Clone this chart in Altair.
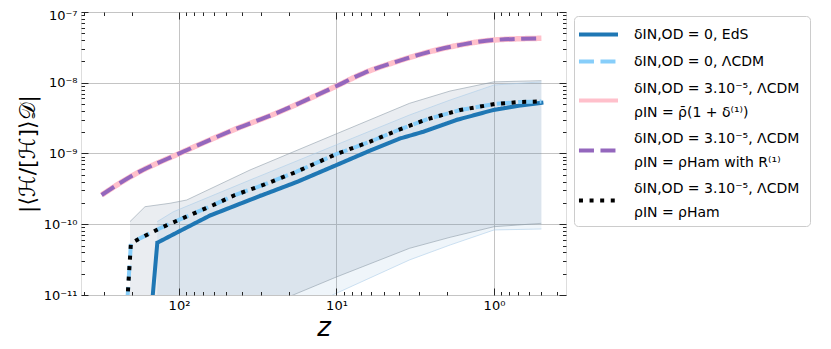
import altair as alt
import pandas as pd

# ---------------- data ----------------
SERIES = [
    "δIN,OD = 0,  EdS",
    "δIN,OD = 0,  ΛCDM",
    "δIN,OD = 3.10⁻⁵,  ΛCDM\nρIN = ρ̄(1 + δ⁽¹⁾)",
    "δIN,OD = 3.10⁻⁵,  ΛCDM\nρIN = ρHam with R⁽¹⁾",
    "δIN,OD = 3.10⁻⁵,  ΛCDM\nρIN = ρHam",
]
COLORS = ["#1f77b4", "#87cefa", "#ffc0cb", "#9467bd", "#000000"]
DASHES = [[1, 0], [15, 6.5], [1, 0], [15, 6.5], [4, 6.6]]
WIDTHS = [4, 4, 5.5, 4, 4]
# legend symbols: a horizontal stroke, lowered for two-line entries
SHAPES = ["M-1.86,0H1.86", "M-1.86,0H1.86", "M-1.86,1.14H1.86",
          "M-1.86,1.14H1.86", "M-1.86,1.14H1.86"]

eds_z = [148, 137.3, 98.6, 63.5, 30.6, 17.9, 10.0, 6.12, 3.95, 2.81, 1.73, 1.01, 0.684, 0.5]
eds_v = [8e-12, 5.48e-11, 8.04e-11, 1.33e-10, 2.51e-10, 3.95e-10, 6.87e-10, 1.10e-9,
         1.63e-9, 2.03e-9, 2.98e-9, 4.12e-9, 4.77e-9, 5.2e-9]

lcdm_z = [213, 202, 177, 132, 98.6, 60.5, 44.1, 29.2, 17.9, 10.0, 6.12, 3.95, 2.67,
          1.64, 0.986, 0.684, 0.5]
lcdm_v = [8e-12, 5.38e-11, 6.32e-11, 8.77e-11, 1.17e-10, 1.87e-10, 2.59e-10, 3.59e-10,
          5.53e-10, 9.84e-10, 1.47e-9, 2.20e-9, 3.04e-9, 4.12e-9, 5.01e-9, 5.35e-9, 5.43e-9]

pert_z = [310, 195, 98.6, 45.2, 22.9, 14.0, 10.0, 6.76, 4.15, 2.55, 1.57, 1.0, 0.5]
pert_v = [2.59e-10, 4.96e-10, 1.01e-9, 2.15e-9, 3.90e-9, 6.35e-9, 9.0e-9, 1.36e-8,
          1.99e-8, 2.75e-8, 3.49e-8, 4.02e-8, 4.25e-8]

bandG_z = [204.7, 164.4, 114.0, 89.4, 35.4, 10.0, 3.44, 1.90, 1.0, 0.5]
bandG_hi = [1.09e-10, 1.77e-10, 1.98e-10, 2.20e-10, 5.85e-10, 1.90e-9, 5.12e-9, 7.64e-9, 1.03e-8, 1.07e-8]
bandG_lo = [1.11e-12, 1.36e-12, 1.90e-12, 2.38e-12, 5.58e-12, 1.80e-11, 4.57e-11, 6.54e-11, 9.23e-11, 1.03e-10]

bandB_z = [137.4, 108.7, 35.4, 10.0, 3.44, 1.90, 1.0, 0.5]
bandB_hi = [1.09e-10, 1.50e-10, 4.22e-10, 1.33e-9, 3.50e-9, 5.70e-9, 9.29e-9, 1.03e-8]
bandB_lo = [6.8e-13, 8.7e-13, 2.81e-12, 1.06e-11, 3.13e-11, 5.09e-11, 8.30e-11, 8.57e-11]

X_DOMAIN = [419, 0.349]
Y_DOMAIN = [1e-11, 1e-7]
X_MAJOR = [100, 10, 1]
X_LABELS = ["10²", "10¹", "10⁰"]
X_MINOR = [0.4, 0.5, 0.6, 0.7, 0.8, 0.9, 2, 3, 4, 5, 6, 7, 8, 9,
           20, 30, 40, 50, 60, 70, 80, 90, 200, 300, 400]
Y_MAJOR = [1e-11, 1e-10, 1e-9, 1e-8, 1e-7]
Y_LABELS = ["10⁻¹¹", "10⁻¹⁰", "10⁻⁹", "10⁻⁸", "10⁻⁷"]
Y_MINOR = [k * m for m in [1e-11, 1e-10, 1e-9, 1e-8] for k in range(2, 10)]

# ---------------- tables ----------------
line_rows = []
for name, zs, vs in [(SERIES[0], eds_z, eds_v), (SERIES[1], lcdm_z, lcdm_v),
                     (SERIES[2], pert_z, pert_v), (SERIES[3], pert_z, pert_v),
                     (SERIES[4], lcdm_z, lcdm_v)]:
    for z, v in zip(zs, vs):
        line_rows.append({"series": name, "z": z, "v": v})
lines_df = pd.DataFrame(line_rows)
bandG = pd.DataFrame({"z": bandG_z, "lo": bandG_lo, "hi": bandG_hi})
bandB = pd.DataFrame({"z": bandB_z, "lo": bandB_lo, "hi": bandB_hi})


def label_expr(vals, labs):
    parts = [f"abs(datum.value - {v}) < {v * 1e-3} ? '{l}'" for v, l in zip(vals, labs)]
    return " : ".join(parts) + " : ''"


XS = alt.Scale(type="log", domain=X_DOMAIN, nice=False)
YS = alt.Scale(type="log", domain=Y_DOMAIN, nice=False)
TICK = "#262626"
FONT = "DejaVu Sans"


def tick_axis(orient, values, size):
    return alt.Axis(orient=orient, values=values, offset=-size, tickSize=size,
                    tickColor=TICK, tickWidth=1, labels=False, domain=False,
                    grid=False, title=None, zindex=2)


AX_GRID = alt.Axis(orient="bottom", values=X_MAJOR, grid=True, ticks=False, labels=False,
                   domain=False, title=None, gridColor="#c4c4c4", gridWidth=1, zindex=0)
AY_GRID = alt.Axis(orient="left", values=Y_MAJOR, grid=True, ticks=False, labels=False,
                   domain=False, title=None, gridColor="#c4c4c4", gridWidth=1, zindex=0)
AX_MAJ_B = alt.Axis(orient="bottom", values=X_MAJOR, offset=-7, tickSize=7, tickColor=TICK,
                    tickWidth=1, labels=True, labelExpr=label_expr(X_MAJOR, X_LABELS),
                    labelFontSize=13, labelPadding=4, labelFont=FONT, labelColor="black",
                    domain=False, grid=False, title="z", titleFontSize=26,
                    titleFontStyle="italic", titleFontWeight="normal", titleFont=FONT,
                    titlePadding=2, zindex=2)
AY_MAJ_L = alt.Axis(orient="left", values=Y_MAJOR, offset=-7, tickSize=7, tickColor=TICK,
                    tickWidth=1, labels=True, labelExpr=label_expr(Y_MAJOR, Y_LABELS),
                    labelFontSize=13, labelPadding=4, labelFont=FONT, labelColor="black",
                    labelOffset={"condition": {"test": "datum.value > 5e-8", "value": 3}, "value": 0},
                    domain=False, grid=False, title="|⟨ℋ/[ℋ]⟩𝒟|", titleFontSize=22,
                    titleFontWeight="normal", titleFont=FONT, titlePadding=4, zindex=2)
AX_MIN_B = tick_axis("bottom", X_MINOR, 3.5)
AY_MIN_L = tick_axis("left", Y_MINOR, 3.5)
AX_MAJ_T = tick_axis("top", X_MAJOR, 7)
AY_MAJ_R = tick_axis("right", Y_MAJOR, 7)
AX_MIN_T = tick_axis("top", X_MINOR, 3.5)
AY_MIN_R = tick_axis("right", Y_MINOR, 3.5)

legend = alt.Legend(orient="none", legendX=493, legendY=4, title=None,
                    labelExpr="split(datum.label, '\\n')", labelLimit=400,
                    labelFontSize=14, labelFont=FONT, labelColor="black",
                    symbolSize=441, symbolStrokeWidth=4, symbolOffset=6, symbolOpacity=1,
                    padding=6, rowPadding=6, labelOffset=23,
                    fillColor="white", strokeColor="#cccccc", cornerRadius=4)

layers = []
# bands
layers.append(alt.Chart(bandG).mark_area(clip=True, color="#6c8299", opacity=0.14).encode(
    x=alt.X("z:Q", scale=XS, axis=AX_GRID),
    y=alt.Y("lo:Q", scale=YS, axis=AY_GRID), y2="hi:Q"))
layers.append(alt.Chart(bandB).mark_area(clip=True, color="#4a90c8", opacity=0.09).encode(
    x=alt.X("z:Q", scale=XS, axis=AX_MAJ_B),
    y=alt.Y("lo:Q", scale=YS, axis=AY_MAJ_L), y2="hi:Q"))
edge_axes = [(AX_MIN_B, AY_MIN_L), (AX_MAJ_T, AY_MAJ_R), (AX_MIN_T, AY_MIN_R), (None, None)]
edges = [(bandG, "hi", "#8a98a6"), (bandG, "lo", "#8a98a6"),
         (bandB, "hi", "#a9cbe8"), (bandB, "lo", "#a9cbe8")]
for (df, col, colr), (ax, ay) in zip(edges, edge_axes):
    layers.append(alt.Chart(df).mark_line(clip=True, color=colr, strokeWidth=0.8, opacity=0.7).encode(
        x=alt.X("z:Q", scale=XS, axis=ax),
        y=alt.Y(f"{col}:Q", scale=YS, axis=ay)))

# series lines
for i, name in enumerate(SERIES):
    layers.append(alt.Chart(lines_df).transform_filter(
        alt.FieldEqualPredicate(field="series", equal=name)
    ).mark_line(clip=True, strokeWidth=WIDTHS[i], color=COLORS[i], strokeDash=DASHES[i],
                interpolate="monotone" if i in (2, 3) else "linear",
                strokeCap="square" if i == 0 else "butt").encode(
        x=alt.X("z:Q", scale=XS, axis=None),
        y=alt.Y("v:Q", scale=YS, axis=None),
    ))

# legend driver (no marks drawn, only the legend from the scales)
layers.append(alt.Chart(lines_df).transform_filter("false").mark_point(
    filled=False, strokeWidth=4, size=441, opacity=1).encode(
    x=alt.X("z:Q", scale=XS, axis=None),
    y=alt.Y("v:Q", scale=YS, axis=None),
    color=alt.Color("series:N", scale=alt.Scale(domain=SERIES, range=COLORS), legend=legend),
    strokeDash=alt.StrokeDash("series:N", scale=alt.Scale(domain=SERIES, range=DASHES), legend=legend),
    shape=alt.Shape("series:N", scale=alt.Scale(domain=SERIES, range=SHAPES), legend=legend),
))

chart = alt.layer(*layers).resolve_axis(x="independent", y="independent").properties(
    width=485, height=283,
    autosize=alt.AutoSizeParams(type="none"),
    padding={"left": 73, "top": 4, "right": 257, "bottom": 46},
).configure_view(stroke="#262626", strokeWidth=1.5).configure(
    font=FONT, style={"guide-label": {"lineHeight": 24}})

chart.save("out.html", embed_options={"renderer": "svg", "actions": False})
